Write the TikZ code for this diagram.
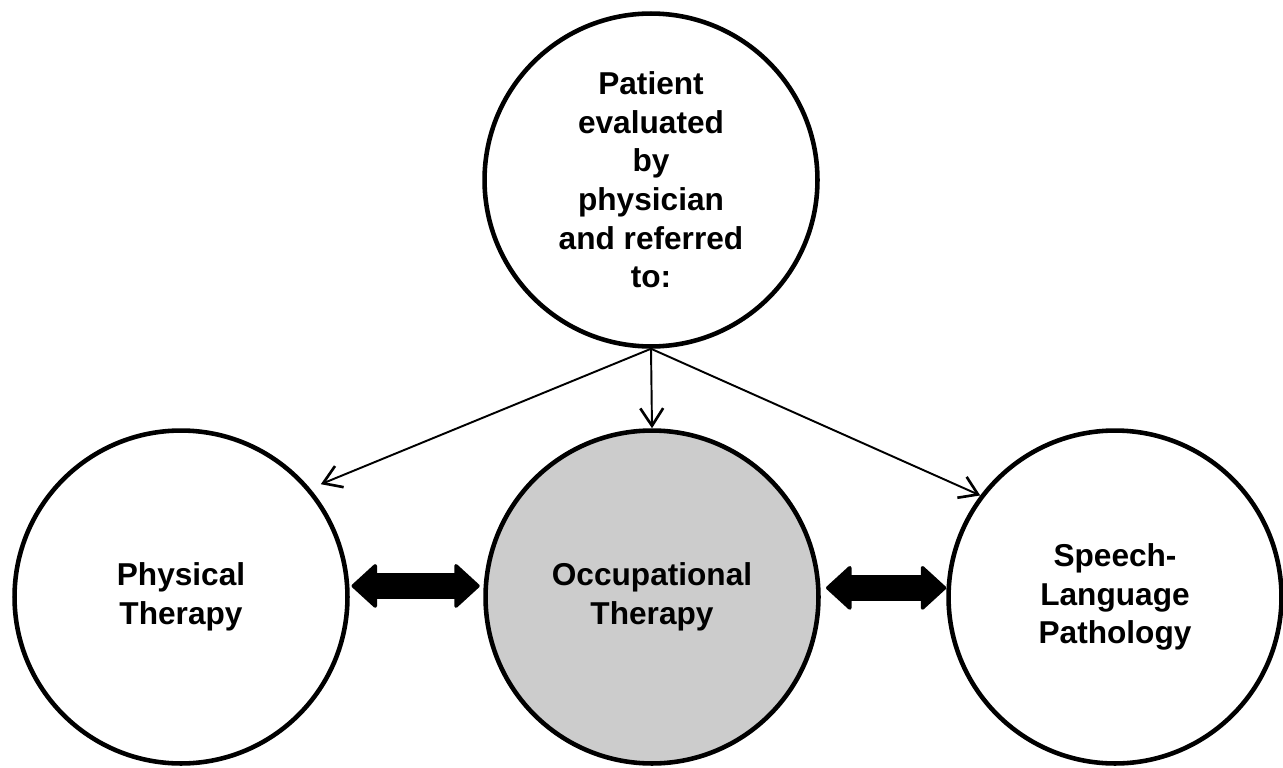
\documentclass[tikz,border=0pt]{standalone}
\usepackage{fontspec}
\setmainfont{Liberation Sans}
\usetikzlibrary{arrows.meta}

\begin{document}
\begin{tikzpicture}[x=0.02cm, y=-0.02cm,
    stage/.style={circle, draw, line width=2.6pt, minimum size=6.66cm, inner sep=0pt,
      align=center, font=\bfseries\fontsize{18}{22}\selectfont},
    refer/.style={line width=1.1pt, -{Straight Barb[length=10pt, width=13pt, line width=1.5pt]}},
    share/.style={line width=15pt,
      {Triangle[round, length=15pt, width=27pt, line width=2pt]}-{Triangle[round, length=15pt, width=27pt, line width=2pt]}}]
  \useasboundingbox (0,0) rectangle (1283,767);
  \node[stage] (patient) at (651,180) {Patient\\evaluated\\by\\physician\\and referred\\to:};
  \node[stage] (pt) at (181,597) {Physical\\Therapy};
  \node[stage, fill=black!20] (ot) at (652,597) {Occupational\\Therapy};
  \node[stage] (slp) at (1115,597) {Speech-\\Language\\Pathology};
  \begin{scope}[refer]
    \draw[shorten >=6.5pt] (patient.south) to (pt.40);
    \draw (patient.south) to (ot.north);
    \draw (patient.south) to (slp.143);
  \end{scope}
  \begin{scope}[share]
    \draw[shorten <=1pt, shorten >=2pt] ([yshift=6.3pt]pt.east) to ([yshift=6.3pt]ot.west);
    \draw[shorten <=3pt] ([yshift=5.2pt]ot.east) to ([yshift=5.2pt]slp.west);
  \end{scope}
\end{tikzpicture}
\end{document}
